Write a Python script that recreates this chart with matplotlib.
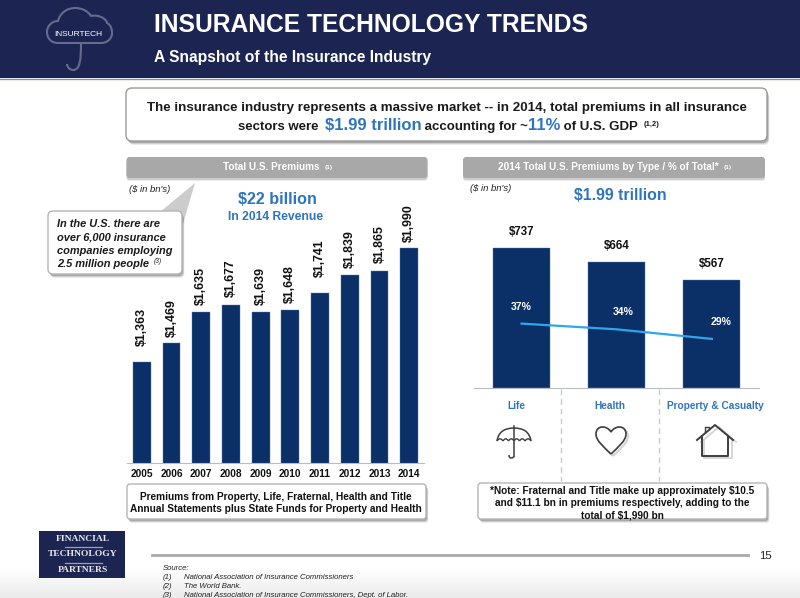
import numpy as np
import matplotlib
matplotlib.use('Agg')
import matplotlib.pyplot as plt
from matplotlib.patches import FancyBboxPatch, Polygon, Rectangle, PathPatch
from matplotlib.path import Path
from matplotlib.transforms import Affine2D

# Data
years = ['2005', '2006', '2007', '2008', '2009', '2010', '2011', '2012', '2013', '2014']
premiums = [1363, 1469, 1635, 1677, 1639, 1648, 1741, 1839, 1865, 1990]
types = ['Life', 'Health', 'Property & Casualty']
type_premiums = [737, 664, 567]
type_shares = [37, 34, 29]
source_notes = ['National Association of Insurance Commissioners', 'The World Bank.',
                'National Association of Insurance Commissioners, Dept. of Labor.']

# Colours
navy = '#1c2452'
bar_blue = '#0b3068'
text_blue = '#2f74c0'
line_blue = '#2ea6ec'
band_grey = '#a8a8a8'
logo_line = '#666b8e'
W, H = 800, 598

plt.rcParams['font.family'] = ['Liberation Sans', 'DejaVu Sans']

fig = plt.figure(figsize=(W / 100, H / 100), dpi=100, facecolor='white')

# Full page axes in pixels for all of the slide furniture
page = fig.add_axes([0, 0, 1, 1], zorder=0)
page.set_xlim(0, W)
page.set_ylim(H, 0)
page.axis('off')


def px_axes(x0, y0, x1, y1, **kw):
    a = fig.add_axes([x0 / W, 1 - y1 / H, (x1 - x0) / W, (y1 - y0) / H], **kw)
    a.patch.set_alpha(0)
    return a


def shadow_box(x0, y0, x1, y1, face='white', edge='#9a9a9a', r=5, lw=1.0):
    for off, al in [(4, 0.12), (3, 0.2), (2, 0.3)]:
        page.add_patch(FancyBboxPatch((x0 + off * 0.6, y0 + off), x1 - x0, y1 - y0,
                                      boxstyle=f'round,pad=0,rounding_size={r}',
                                      fc='#555555', ec='none', alpha=al, zorder=2))
    page.add_patch(FancyBboxPatch((x0, y0), x1 - x0, y1 - y0,
                                  boxstyle=f'round,pad=0,rounding_size={r}',
                                  fc=face, ec=edge, lw=lw, zorder=3))


def run_text(parts, x, y):
    # parts are (string, size, colour, y shift); drawn one after another, centred on x
    r = fig.canvas.get_renderer()
    items = []
    for s, size, col, dy in parts:
        t = page.text(0, y + dy, s, fontsize=size, color=col, fontweight='bold',
                      va='baseline', ha='left', zorder=6)
        items.append(t)
    widths = [t.get_window_extent(r).width for t in items]
    pos = x - sum(widths) / 2
    for t, w, p in zip(items, widths, parts):
        t.set_x(pos)
        pos += w + (2 if p[0].endswith(' ') else 0)


# Header band
page.add_patch(Rectangle((0, 0), W, 78, fc=navy, ec='none', zorder=1))
page.plot([0, W], [78.5, 78.5], color='#8a8fa8', lw=1, zorder=1)
page.text(154, 32, 'INSURANCE TECHNOLOGY TRENDS', color='white', fontsize=17.7,
          fontweight='bold', va='baseline', zorder=3)
page.text(154, 62, 'A Snapshot of the Insurance Industry', color='white', fontsize=11.25,
          fontweight='bold', va='baseline', zorder=3)

# Cloud and umbrella logo
C4, MT = Path.CURVE4, Path.MOVETO
cloud = [(58, 43), (50, 43), (47, 37), (47, 32),
         (47, 26), (52, 21), (58, 21),
         (60, 13), (67, 8), (75, 8),
         (82, 8), (88, 11), (91, 16),
         (100, 14), (107, 20), (107, 23),
         (111, 25), (112, 29), (112, 33),
         (112, 39), (107, 43), (101, 43),
         (58, 43)]
codes = [MT] + [C4] * 21 + [Path.LINETO]
page.add_patch(PathPatch(Path(cloud, codes), fc='none', ec=logo_line, lw=1.5, zorder=3))
page.add_patch(PathPatch(Path([(81, 43), (81, 60), (80, 70), (73, 70), (70, 70), (67, 67), (67, 64)],
                              [MT, C4, C4, C4, C4, C4, C4]),
                         fc='none', ec=logo_line, lw=1.5, zorder=3))
page.text(78.5, 34, 'INSURTECH', color='white', fontsize=6.0, ha='center', va='center', zorder=4)

# Headline box
shadow_box(126, 88, 767, 141, r=6)
run_text([('The insurance industry represents a massive market -- in 2014, total premiums in all insurance',
           9.65, '#1a1a1a', 0)], 446.5, 111)
run_text([('sectors were ', 9.5, '#1a1a1a', 0), ('$1.99 trillion', 12.0, text_blue, 0),
          (' accounting for ~', 9.5, '#1a1a1a', 0), ('11%', 12.0, text_blue, 0),
          (' of U.S. GDP ', 9.5, '#1a1a1a', 0), ('(1,2)', 5.5, '#1a1a1a', -4)], 447, 130)

# Section bands
for x0, x1 in [(126.5, 427.5), (463, 765)]:
    for off, al in [(3, 0.12), (2, 0.2)]:
        page.add_patch(FancyBboxPatch((x0, 157 + off), x1 - x0, 21,
                                      boxstyle='round,pad=0,rounding_size=3',
                                      fc='#555555', ec='none', alpha=al, zorder=1))
    page.add_patch(FancyBboxPatch((x0, 157), x1 - x0, 21, boxstyle='round,pad=0,rounding_size=3',
                                  fc=band_grey, ec='none', zorder=2))
run_text([('Total U.S. Premiums ', 7.2, 'white', 0), ('(1)', 4.6, 'white', -2)], 277, 170.5)
run_text([('2014 Total U.S. Premiums by Type / % of Total* ', 7.2, 'white', 0),
          ('(1)', 4.6, 'white', -2)], 614, 170.5)

page.text(129, 192, "($ in bn's)", fontsize=6.8, style='italic', color='#222222', va='baseline')
page.text(470, 191, "($ in bn's)", fontsize=6.8, style='italic', color='#222222', va='baseline')
page.text(277, 204.5, '$22 billion', fontsize=11.6, fontweight='bold', color=text_blue, ha='center', va='baseline')
page.text(275.5, 220, 'In 2014 Revenue', fontsize=8.7, fontweight='bold', color=text_blue, ha='center', va='baseline')
page.text(620, 199.5, '$1.99 trillion', fontsize=11.4, fontweight='bold', color=text_blue, ha='center', va='baseline')

# Callout
page.add_patch(Polygon([(195, 183), (160, 212), (183, 224)], fc='#cccccc', ec='none', zorder=1))
shadow_box(48, 211, 182, 274, edge='#b5b5b5', r=5)
for y, line in zip([227, 240.5, 254, 267], ['In the U.S. there are', 'over 6,000 insurance',
                                            'companies employing', '2.5 million people']):
    page.text(57, y, line, fontsize=7.9, fontweight='bold', style='italic', color='#1a1a1a',
              va='baseline', zorder=6)
page.text(153.5, 263, '(3)', fontsize=4.8, style='italic', color='#1a1a1a', va='baseline', zorder=6)

# Left bar chart
ax = px_axes(127, 200, 424, 463, zorder=5)
bars = ax.bar(years, premiums, width=0.6, color=bar_blue, edgecolor='#5f7fa8', linewidth=0.3)
ax.set_xlim(-0.5, 9.5)
ax.set_ylim(808, 2253)
# labels do not sit at one distance above the bars on the slide
label_gaps = [16, 6, 7, 8, 7, 7, 16, 7, 8, 6]
for i, (v, gap) in enumerate(zip(premiums, label_gaps)):
    ax.annotate(f'${v:,}', (i, v), xytext=(0, gap * 0.72), textcoords='offset points', rotation=90,
                ha='center', va='bottom', fontsize=8.9, fontweight='bold', color='#111111')
ax.set_yticks([])
for s in ['top', 'left', 'right']:
    ax.spines[s].set_visible(False)
ax.spines['bottom'].set_color('#b8bcc4')
ax.tick_params(axis='x', length=0, pad=4.5, labelsize=7.3, labelcolor='#111111')
for lab in ax.get_xticklabels():
    lab.set_fontweight('bold')

shadow_box(127, 484, 426, 519, edge='#b5b5b5', r=3)
page.text(276, 500, 'Premiums from Property, Life, Fraternal, Health and Title', fontsize=7.25,
          fontweight='bold', color='#111111', ha='center', va='baseline', zorder=6)
page.text(275.5, 511.5, 'Annual Statements plus State Funds for Property and Health', fontsize=7.25,
          fontweight='bold', color='#111111', ha='center', va='baseline', zorder=6)

# Right bar chart with share line
ax2 = px_axes(474, 238, 759.4, 388, zorder=5)
x_pos = np.arange(len(types))
bars2 = ax2.bar(x_pos, type_premiums, width=0.6, color=bar_blue, edgecolor='#5f7fa8', linewidth=0.3)
ax2.set_xlim(-0.5, 2.5)
ax2.set_ylim(0, 790)
ax2.bar_label(bars2, labels=[f'${v}' for v in type_premiums], padding=7.5, fontsize=8.3,
              fontweight='bold', color='#111111')
ax2.set_xticks([])
ax2.set_yticks([])
for s in ['top', 'left', 'right']:
    ax2.spines[s].set_visible(False)
ax2.spines['bottom'].set_color('#b8bcc4')

share = ax2.twinx()
share.patch.set_alpha(0)
share.set_ylim(3.3, 81.8)
share.set_yticks([])
for s in share.spines.values():
    s.set_visible(False)
share.plot(x_pos, type_shares, color=line_blue, lw=1.6)
for i, (v, dx, dy) in enumerate(zip(type_shares, [0, 4.5, 7], [12, 12.5, 12.5])):
    share.annotate(f'{v}%', (i, v), xytext=(dx, dy), textcoords='offset points', ha='center',
                   va='center', color='white', fontsize=7.6, fontweight='bold')

# Category labels, dividers and icons
for x in [561, 659]:
    page.plot([x, x], [389, 481], color='#c9c9c9', lw=1, ls=(0, (4, 3)), zorder=1)
for x, name in zip([516, 610, 715.5], types):
    page.text(x, 409, name, fontsize=7.3, fontweight='bold', color=text_blue, ha='center', va='baseline')

icon = '#3d3d3d'
drop = page.transData + Affine2D().translate(2, -2)
# Umbrella
page.add_patch(PathPatch(Path([(497, 441), (499, 428), (514, 428), (529, 428), (531, 441)],
                              [MT, Path.CURVE3, Path.CURVE3, Path.CURVE3, Path.CURVE3]),
                         fc='none', ec=icon, lw=1.1))
sc = [497, 503, 508.5, 514, 519.5, 525, 531]
for a, b in zip(sc[:-1], sc[1:]):
    page.add_patch(PathPatch(Path([(a, 441), ((a + b) / 2, 436.5), (b, 441)],
                                  [MT, Path.CURVE3, Path.CURVE3]), fc='none', ec=icon, lw=1.0))
page.plot([514, 514], [426, 456], color=icon, lw=1.1)
page.add_patch(PathPatch(Path([(514, 456), (514, 458), (511, 458), (509, 458), (509, 455)],
                              [MT, Path.CURVE3, Path.CURVE3, Path.CURVE3, Path.CURVE3]),
                         fc='none', ec=icon, lw=1.1))
# Heart
heart = [(611, 454),
         (604, 447), (596, 441), (596, 434),
         (596, 425), (607, 425), (611, 432),
         (615, 425), (626, 425), (626, 434),
         (626, 441), (618, 447), (611, 454)]
hcodes = [MT] + [C4] * 12
page.add_patch(PathPatch(Path(heart, hcodes), fc='none', ec='#d6d6d6', lw=1.6, zorder=1, transform=drop))
page.add_patch(PathPatch(Path(heart, hcodes), fc='white', ec=icon, lw=1.2, zorder=2))
# House
page.plot([699, 717, 734], [440, 425, 440], color='#d6d6d6', lw=1.4, zorder=1, transform=drop)
page.plot([702, 702, 730, 730], [438, 455.5, 455.5, 438], color='#d6d6d6', lw=1.4, zorder=1, transform=drop)
page.plot([697, 715, 733], [440, 425, 440], color=icon, lw=1.4, zorder=2)
page.plot([702, 702, 728, 728], [436, 455.5, 455.5, 436], color=icon, lw=1.4, zorder=2)
page.plot([705, 705, 709, 709], [432, 427, 427, 429], color=icon, lw=1.0, zorder=2)

shadow_box(478, 483, 767, 519, edge='#b5b5b5', r=3)
for y, line in zip([494.5, 506.5, 518], ['*Note: Fraternal and Title make up approximately $10.5',
                                         'and $11.1 bn in premiums respectively, adding to the',
                                         'total of $1,990 bn']):
    page.text(622, y, line, fontsize=7.3, fontweight='bold', color='#111111', ha='center',
              va='baseline', zorder=6)

# Footer
grad = np.linspace(1, 0.92, 32).reshape(-1, 1)
page.imshow(grad, extent=(0, W, H, 566), cmap='gray', vmin=0, vmax=1, aspect='auto', zorder=0)
page.set_xlim(0, W)
page.set_ylim(H, 0)

page.add_patch(Rectangle((39, 531), 86, 46.5, fc=navy, ec='none', zorder=1))
for y, s in zip([539, 554.5, 570], ['FINANCIAL', 'TECHNOLOGY', 'PARTNERS']):
    page.text(83, y, s, color='#e8e8ee', fontsize=6.8, family='Liberation Serif', fontweight='bold',
              ha='center', va='center', zorder=2)
for y in [546.5, 563]:
    page.plot([65, 102], [y, y], color='#9a9fb8', lw=0.9, zorder=2)

page.plot([152, 748], [554.7, 554.7], color='#a9a9a9', lw=2, zorder=1)
page.text(765.5, 556, '15', fontsize=8.2, color='#222222', ha='center', va='center')
page.text(163, 570, 'Source:', fontsize=5.6, style='italic', color='#222222', va='baseline')
for i, (y, note) in enumerate(zip([579, 588, 597], source_notes)):
    page.text(163, y, f'({i + 1})', fontsize=5.6, style='italic', color='#222222', va='baseline')
    page.text(184, y, note, fontsize=5.6, style='italic', color='#222222', va='baseline')

fig.savefig('out.png', dpi=100)
